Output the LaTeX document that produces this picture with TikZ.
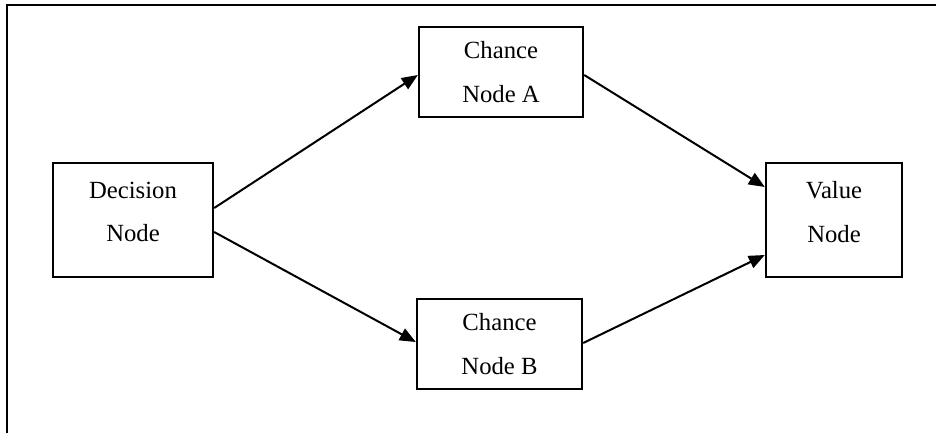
\documentclass[tikz,border=0pt]{standalone}
\usepackage{fontspec}
\setmainfont{Liberation Serif}
\usetikzlibrary{arrows.meta,calc}
\newcommand{\lowpad}{\rule[-16pt]{0pt}{16pt}}
\begin{document}
\begin{tikzpicture}[x=1pt,y=-1pt,
  boxnode/.style={draw,line width=2.4pt,align=center,inner sep=0pt,
    font=\fontsize{24.7}{43.5}\selectfont},
  link/.style={line width=2pt,-{Triangle[length=16pt,width=13pt]}},
  frameline/.style={line width=2.6pt}]
\useasboundingbox (0,0) rectangle (936,432);
\draw[frameline] (7,440) -- (7,5) -- (945,5);
\node[boxnode,minimum width=160pt,minimum height=114pt] (D) at (133,220) {Decision\\Node\lowpad};
\node[boxnode,minimum width=164pt,minimum height=90pt] (A) at (501,72) {Chance\\Node A};
\node[boxnode,minimum width=165pt,minimum height=90pt] (B) at (499.5,344) {Chance\\Node B};
\node[boxnode,minimum width=136pt,minimum height=114pt] (V) at (834,220) {Value\\Node\lowpad};
\draw[link] ($(D.east)+(0,-12)$) -- ($(A.west)+(0,3)$);
\draw[link] ($(D.east)+(0,12)$) -- ($(B.west)+(0,-2)$);
\draw[link] ($(A.east)+(0,3)$) -- ($(V.west)+(0,-33)$);
\draw[link] ($(B.east)+(0,-1)$) -- ($(V.west)+(0,35)$);
\end{tikzpicture}
\end{document}
